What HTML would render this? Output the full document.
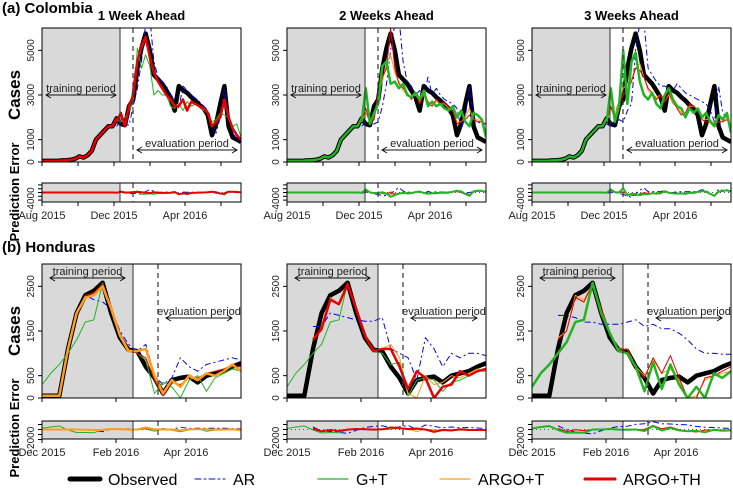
<!DOCTYPE html>
<html><head><meta charset="utf-8"><style>
body{margin:0;background:#fff;}
svg{display:block;font-family:"Liberation Sans",sans-serif;}
</style></head><body>
<svg id="chart" width="733" height="489" viewBox="0 0 733 489"></svg>
<script>
// ---------- DATA ----------
const colObs = [50,50,50,50,60,70,80,100,150,250,200,300,500,1000,1200,1400,1600,1600,1950,1700,1650,2500,2800,4200,5100,5750,5000,3900,3700,3500,3200,2900,2300,3400,3200,3100,2900,2750,2550,2400,2100,1200,1700,2600,3400,1600,1100,1000,900];
const colStart = 18;
const colP1AR = [1600,1950,1700,1650,2500,3300,4500,6200,6500,4500,3800,3600,3400,3000,2800,2400,3400,3200,3000,2850,2700,2500,2300,1500,1300,2000,3300,2200,1300,1050,950];
const colP1GT = [1900,1800,2000,2300,2700,5100,4200,4800,4300,3000,3200,3000,3000,2500,2400,2600,2300,2700,2500,2600,2500,2300,2200,1800,1900,2200,2100,2000,1600,1700,1100];
const colP1T = [1850,2100,1650,2450,3000,4400,5100,5500,4600,4000,3600,3300,3000,2800,2500,2600,2800,2400,2700,2600,2500,2400,2200,1700,1800,2100,2700,2000,1500,1250,1000];
const colP1TH = [1800,2200,1600,2500,3000,4500,5200,5600,4700,4000,3600,3300,3000,2800,2500,2500,2800,2300,2700,2600,2500,2400,2200,1600,1800,2000,2800,2000,1500,1200,1000];
const colP2AR = [1600,1800,1700,1700,1800,2500,3500,5000,6200,6500,4500,3600,3400,3000,3200,2900,3800,3000,3300,3000,2800,2700,2600,2400,1500,2000,3400,2000,1800,1700,1700];
const colP2GT = [1800,3300,1700,2200,2600,4300,4500,3500,3600,3300,3500,3000,2900,3100,2800,3200,2500,2700,2500,2600,2400,2300,2500,2000,2300,1800,1600,2200,2100,1900,1100];
const colP2T = [1800,2200,1800,2000,3000,3600,4400,4800,4000,3600,3200,3000,2900,3000,2700,3000,2600,2500,2700,2600,2600,2400,2300,1800,1800,2000,2400,1900,1900,1800,1700];
const colP2TH = [1800,2400,1700,1900,3000,3800,4200,6000,4200,3500,3300,3100,2800,3100,2600,3100,2700,2500,2800,2600,2700,2500,2300,1700,1800,1900,2100,1900,1800,1800,1700];
const colP3AR = [1700,1600,1700,1900,1800,2300,2600,5000,6200,6300,4200,3900,3600,3400,3400,3300,3200,3500,3300,3100,3000,2900,2800,2700,2600,2300,1800,3400,2200,2000,1900];
const colP3GT = [1800,3300,1800,2500,5000,2600,4500,4900,3600,3000,2800,3100,2600,2400,3000,3300,2800,2500,2400,2000,2400,2200,2400,2000,2200,1800,1600,2100,1900,2200,1300];
const colP3T = [1800,2400,2000,2800,3300,3500,3700,4200,4400,3800,3200,3000,2900,3000,2700,3000,2600,2500,2200,2000,2500,2500,2300,2000,1900,1900,1700,1800,1800,2000,1600];
const colP3TH = [1800,2500,1900,2600,3000,3200,3600,4200,4100,3800,3300,3100,2800,3000,2700,3100,2700,2400,2100,2200,2600,2500,2300,1900,1800,1800,1700,1800,1800,1900,1600];

const honObs = [50,50,50,1100,1900,2300,2400,2580,1900,1350,1080,1050,700,450,100,400,450,480,350,500,550,600,700,780];
const honP1AR = [50,50,50,1100,1900,2300,2200,2150,2000,1500,1200,1050,1200,500,300,450,900,700,600,750,800,850,900,850];
const honP1GT = [300,550,750,1000,1300,1700,1750,2580,2000,1450,1100,1000,850,100,350,250,0,400,500,150,450,550,650,600];
const honP1T = [50,50,50,1100,1900,2250,2300,2500,2000,1400,1050,1050,1100,500,100,400,250,500,400,550,500,600,750,600];
const honP1TH = [50,50,50,1100,1900,2300,2350,2550,2050,1450,1100,1000,900,400,50,350,300,450,450,550,600,650,700,700];
const honP2AR = [null,null,null,1600,1600,1900,1850,1800,1750,1720,1720,1800,1100,1000,900,400,1350,1100,700,1000,900,1000,1000,950];
const honP2GT = [250,550,750,1000,1200,1700,1750,2580,2000,1400,1050,1000,750,800,50,400,450,400,150,350,400,500,600,600];
const honP2T = [null,null,null,1350,1500,2250,2100,2550,2000,1400,1050,1100,1200,900,100,0,500,300,350,500,450,550,650,600];
const honP2TH = [null,null,null,1300,1550,2200,2100,2550,2000,1400,1050,1100,1100,700,200,600,450,0,250,300,600,500,600,650];
const honP3AR = [null,null,null,1850,1850,1800,1700,1700,1650,1650,1650,1700,1750,1600,1650,1550,1550,1450,1300,1100,1000,1000,980,980];
const honP3GT = [250,550,750,1000,1250,1700,1750,2580,1900,1450,1050,1000,700,150,800,200,750,300,0,250,0,550,450,600];
const honP3T = [null,null,null,1350,1500,2300,2200,2550,2000,1450,1100,1100,700,500,850,550,650,400,0,50,400,500,550,600];
const honP3TH = [null,null,null,1300,1500,2250,2150,2550,2000,1450,1050,1100,650,450,900,550,950,450,0,0,450,500,600,700];

const colYTicks = [0,1000,3000,5000];
const honYTicks = [0,500,1500,2500];
const colXLabels = ["Aug 2015","Dec 2015","Apr 2016"];
const honXLabels = ["Dec 2015","Feb 2016","Apr 2016"];
const panelTitles = ["1 Week Ahead","2 Weeks Ahead","3 Weeks Ahead"];
const legendLabels = ["Observed","AR","G+T","ARGO+T","ARGO+TH"];

// ---------- DRAW ----------
const NS="http://www.w3.org/2000/svg";
const svg=document.getElementById('chart');
function el(tag,attrs,parent,text){const e=document.createElementNS(NS,tag);for(const k in attrs)e.setAttribute(k,attrs[k]);if(text!==undefined)e.textContent=text;(parent||svg).appendChild(e);return e;}
const PX=[42,287,532], PW=199;
const COL={AR:"#0000ee",GT:"#22b422",T:"#ff9d1e",TH:"#e60000"};

function pathFrom(vals, xf, yf, start){
  let d="", pen=false;
  vals.forEach((v,j)=>{ if(v===null||v===undefined){pen=false;return;} const x=xf(j+start), y=yf(v); d+=(pen?"L":"M")+x.toFixed(1)+","+y.toFixed(1); pen=true;});
  return d;
}

function drawPanel(cfg){
  const g=el('g',{});
  
  
  const x0=cfg.x, top=cfg.top, bot=cfg.bot, n=cfg.obs.length;
  const xf=i=>x0+i*PW/(n-1);
  const yf=v=>bot-(v/cfg.ymax)*(bot-top);
  const clip='clip'+cfg.id;
  const cp=el('clipPath',{id:clip},g); el('rect',{x:x0,y:top,width:PW,height:bot-top},cp);
  const shade=el('rect',{x:x0,y:top,width:cfg.shadeW,height:bot-top,fill:"#d9d9d9"},g);
  
  
  const lg=el('g',{'clip-path':`url(#${clip})`},g);
  const obsP=el('path',{d:pathFrom(cfg.obs,xf,yf,0),fill:"none",stroke:"#000","stroke-width":4.5,"stroke-linejoin":"round"},lg);
  
  
  cfg.series.forEach(s=>{
    const p=el('path',{d:pathFrom(s.vals,xf,yf,cfg.start),fill:"none",stroke:COL[s.k],"stroke-width":s.w,"stroke-linejoin":"round"},lg);
    if(s.k==="AR")p.setAttribute('stroke-dasharray','6,3,2,3');
    
    
    if(s.trainFill){
      const tp=el('path',{d:pathFrom(cfg.obs.slice(0,cfg.start+1),xf,yf,0),fill:"none",stroke:COL[s.k],"stroke-width":s.w},lg);
      
      
    }
  });
  el('line',{x1:x0+cfg.shadeW,x2:x0+cfg.shadeW,y1:top,y2:bot,stroke:"#333","stroke-width":1},g);
  el('line',{x1:x0+cfg.dashX,x2:x0+cfg.dashX,y1:top,y2:bot,stroke:"#444","stroke-width":1.3,"stroke-dasharray":"5,4"},g);
  el('rect',{x:x0,y:top,width:PW,height:bot-top,fill:"none",stroke:"#000","stroke-width":1},g);
  function arrow(xa,xb,y,label,nm){
    const a=el('g',{},g);
    
    
    el('line',{x1:xa,x2:xb,y1:y,y2:y,stroke:"#111","stroke-width":1},a);
    el('path',{d:`M${xa+5},${y-3}L${xa},${y}L${xa+5},${y+3}M${xb-5},${y-3}L${xb},${y}L${xb-5},${y+3}`,fill:"none",stroke:"#111","stroke-width":1},a);
    el('text',{x:(xa+xb)/2,y:y-3,'font-size':11,'text-anchor':'middle',fill:"#222"},a,label);
  }
  arrow(x0+cfg.trA[0],x0+cfg.trA[1],cfg.trY,"training period","training-period-arrow");
  arrow(x0+cfg.evA[0],x0+cfg.evA[1],cfg.evY,"evaluation period","evaluation-period-arrow");
  cfg.yticks.forEach(t=>{
    const y=yf(t);
    el('line',{x1:x0-4,x2:x0,y1:y,y2:y,stroke:"#000"},g);
    const tx=el('text',{x:x0-8,y:y,'font-size':10,'text-anchor':'middle',fill:"#222",transform:`rotate(-90 ${x0-8} ${y})`},g,String(t));
    
    
  });
  cfg.xticks.forEach(xi=>{el('line',{x1:x0+xi,x2:x0+xi,y1:bot,y2:bot+4,stroke:"#000"},g);});
  const et=cfg.eTop, eb=cfg.eBot;
  const ey=v=>cfg.eZero-v*cfg.eScale;
  const eclip='eclip'+cfg.id;
  const ecp=el('clipPath',{id:eclip},g); el('rect',{x:x0,y:et,width:PW,height:eb-et},ecp);
  el('rect',{x:x0,y:et,width:cfg.shadeW,height:eb-et,fill:"#d9d9d9"},g);
  const eg=el('g',{'clip-path':`url(#${eclip})`},g);
  
  
  el('line',{x1:x0,x2:x0+PW,y1:ey(0),y2:ey(0),stroke:"#555","stroke-dasharray":"1,3"},eg);
  cfg.series.forEach(s=>{
    const errs=s.vals.map((v,j)=>v===null?null:v-cfg.obs[j+cfg.start]);
    let st=cfg.start;
    let full=errs;
    if(s.trainFill){full=new Array(cfg.start).fill(0).concat(errs);st=0;}
    const p=el('path',{d:pathFrom(full,xf,ey,st),fill:"none",stroke:COL[s.k],"stroke-width":Math.min(s.w,2),"stroke-linejoin":"round"},eg);
    if(s.k==="AR")p.setAttribute('stroke-dasharray','6,3,2,3');
  });
  el('line',{x1:x0+cfg.shadeW,x2:x0+cfg.shadeW,y1:et,y2:eb,stroke:"#333"},g);
  if(cfg.eDash) el('line',{x1:x0+cfg.dashX,x2:x0+cfg.dashX,y1:et,y2:eb,stroke:"#444","stroke-width":1.3,"stroke-dasharray":"5,4"},g);
  el('rect',{x:x0,y:et,width:PW,height:eb-et,fill:"none",stroke:"#000"},g);
  cfg.eticks.forEach(t=>{const y=ey(t);el('line',{x1:x0-4,x2:x0,y1:y,y2:y,stroke:"#000"},g);});
  const el2=el('text',{x:x0-8,y:ey(cfg.elab),'font-size':10,'text-anchor':'middle',fill:"#222",transform:`rotate(-90 ${x0-8} ${ey(cfg.elab)})`},g,String(cfg.elab));
  
  
  cfg.xticks.forEach(xi=>{el('line',{x1:x0+xi,x2:x0+xi,y1:eb,y2:eb+4,stroke:"#000"},g);});
  cfg.xlabels.forEach((lab,k)=>{
    const t=el('text',{x:x0+cfg.labelPos[k],y:eb+17,'font-size':11,'text-anchor':'middle',fill:"#222"},g,lab);
    
    
  });
}

const colSeries=[
  [{k:"AR",vals:colP1AR,w:1},{k:"GT",vals:colP1GT,w:1},{k:"T",vals:colP1T,w:1},{k:"TH",vals:colP1TH,w:2.5,trainFill:true}],
  [{k:"AR",vals:colP2AR,w:1},{k:"T",vals:colP2T,w:1},{k:"TH",vals:colP2TH,w:1},{k:"GT",vals:colP2GT,w:2.5,trainFill:true}],
  [{k:"AR",vals:colP3AR,w:1},{k:"T",vals:colP3T,w:1},{k:"TH",vals:colP3TH,w:1},{k:"GT",vals:colP3GT,w:2.5,trainFill:true}]
];
const honSeries=[
  [{k:"AR",vals:honP1AR,w:1},{k:"GT",vals:honP1GT,w:1},{k:"TH",vals:honP1TH,w:1},{k:"T",vals:honP1T,w:2.5}],
  [{k:"AR",vals:honP2AR,w:1},{k:"GT",vals:honP2GT,w:1},{k:"T",vals:honP2T,w:1},{k:"TH",vals:honP2TH,w:2.5}],
  [{k:"AR",vals:honP3AR,w:1},{k:"T",vals:honP3T,w:1},{k:"TH",vals:honP3TH,w:1},{k:"GT",vals:honP3GT,w:2.5}]
];
for(let p=0;p<3;p++){
  drawPanel({id:'c'+p,name:'colombia-panel-'+(p+1),x:PX[p],top:28,bot:162,ymax:6000,obs:colObs,start:colStart,series:colSeries[p],
    shadeW:78,dashX:91,trA:[4,74],trY:95,evA:[95,195],evY:150,yticks:colYTicks,xticks:[0,36,72,108,143,179],labelPos:[0,72,143],
    eTop:183,eBot:202,eZero:192.5,eScale:0.0019,eticks:[-4000,-2000,0,2000,4000],elab:-4000,eDash:true,xlabels:colXLabels});
  drawPanel({id:'h'+p,name:'honduras-panel-'+(p+1),x:PX[p],top:264,bot:398,ymax:3000,obs:honObs,start:0,series:honSeries[p],
    shadeW:91,dashX:116,trA:[8,83],trY:278,evA:[124,190],evY:318,yticks:honYTicks,xticks:[0,74,144],labelPos:[0,74,144],
    eTop:421,eBot:439,eZero:429.5,eScale:0.005,eticks:[-2000,-1000,0,1000],elab:-2000,eDash:true,xlabels:honXLabels});
  const tt=el('text',{x:PX[p]+PW/2,y:20,'font-size':13,'font-weight':'bold','text-anchor':'middle'},svg,panelTitles[p]);
  
  
}
</script>
<script>
(function(){
  const NS="http://www.w3.org/2000/svg";const svg=document.getElementById('chart');
  function t(x,y,s,txt,extra){const e=document.createElementNS(NS,'text');e.setAttribute('x',x);e.setAttribute('y',y);e.setAttribute('font-size',s);e.setAttribute('font-weight','bold');if(extra)for(const k in extra)e.setAttribute(k,extra[k]);e.textContent=txt;svg.appendChild(e);return e;}
  let a=t(2,13,15,"(a) Colombia");
  
  
  let b=t(2,252,15,"(b) Honduras");
  
  
  let c1=t(20,95,17,"Cases",{'text-anchor':'middle',transform:'rotate(-90 20 95)'});
  
  
  let c2=t(20,331,17,"Cases",{'text-anchor':'middle',transform:'rotate(-90 20 331)'});
  
  
  let e1=t(19,192,13,"Prediction Error",{'text-anchor':'middle',transform:'rotate(-90 19 192)'});
  
  
  let e2=t(19,428,13,"Prediction Error",{'text-anchor':'middle',transform:'rotate(-90 19 428)'});
  
  
})();
</script>
<script>
(function(){
  const NS="http://www.w3.org/2000/svg";const svg=document.getElementById('chart');
  const lx=[70,195,318,440,585], styles=[["#000",5,null],["#0000ee",1,"6,3,2,3"],["#22b422",1.2,null],["#ff9d1e",1.2,null],["#e60000",3,null]];
  const names=["legend-observed","legend-ar","legend-gt","legend-argo-t","legend-argo-th"];
  const labs=["Observed","AR","G+T","ARGO+T","ARGO+TH"];
  for(let i=0;i<5;i++){
    const g=document.createElementNS(NS,'g');
    
    
    const l=document.createElementNS(NS,'line');
    l.setAttribute('x1',lx[i]);l.setAttribute('x2',lx[i]+30);l.setAttribute('y1',479);l.setAttribute('y2',479);
    l.setAttribute('stroke',styles[i][0]);l.setAttribute('stroke-width',styles[i][1]);l.setAttribute('stroke-linecap','round');
    if(styles[i][2])l.setAttribute('stroke-dasharray',styles[i][2]);
    g.appendChild(l);
    const tx=document.createElementNS(NS,'text');
    tx.setAttribute('x',lx[i]+38);tx.setAttribute('y',485);tx.setAttribute('font-size',16);tx.textContent=labs[i];
    g.appendChild(tx);svg.appendChild(g);
  }
})();
</script>
</body></html>
